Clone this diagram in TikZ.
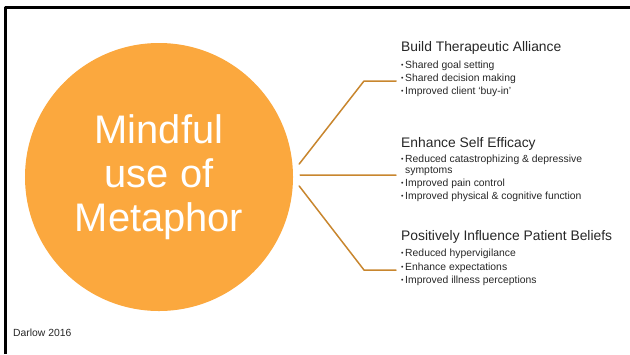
\documentclass[tikz,border=0pt]{standalone}
\usepackage{fontspec}
\setmainfont{Liberation Sans}
\definecolor{mindorange}{RGB}{251,168,62}
\definecolor{linkbrown}{RGB}{200,134,46}
\definecolor{txtgray}{RGB}{38,38,38}
\newcommand\itm{{\fontsize{7}{7}\selectfont\raisebox{0.8bp}{\textbullet}}\hspace{1.6bp}}

\begin{document}
\begin{tikzpicture}[x=1bp,y=-1bp, line join=round, line cap=round,
    head/.style={anchor=base west, inner sep=0pt, text=txtgray, font=\fontsize{13.9}{16}\selectfont},
    item/.style={anchor=base west, inner sep=0pt, text=txtgray, font=\fontsize{10.4}{12}\selectfont},
    link/.style={draw=linkbrown, line width=1.5bp}]
    \useasboundingbox (0,0) rectangle (630,354);
    % frame, top and left edges only
    \draw[line width=2.5bp, line cap=butt] (5.3,354) -- (5.3,7.5) -- (630,7.5);
    % the big circle
    \node (mind) at (159,177) [circle, fill=mindorange, minimum size=268bp, inner sep=0pt,
        text=white, align=center, font=\fontsize{40}{44}\selectfont] {Mindful\\use of\\Metaphor};
    % first group
    \node (h1) at (401,51) [head] {Build Therapeutic Alliance};
    \node (i11) at (401,68) [item] {\itm Shared goal setting};
    \node (i12) at (401,81) [item] {\itm Shared decision making};
    \node (i13) at (401,94) [item] {\itm Improved client ‘buy-in’};
    % second group
    \node (h2) at (401,147.5) [head] {Enhance Self Efficacy};
    \node (i21) at (401,162.7) [item] {\itm Reduced catastrophizing \& depressive};
    \node (i21b) at (401,173) [item] {\phantom{\itm}symptoms};
    \node (i22) at (401,186) [item] {\itm Improved pain control};
    \node (i23) at (401,199) [item] {\itm Improved physical \& cognitive function};
    % third group
    \node (h3) at (401,240.5) [head] {Positively Influence Patient Beliefs};
    \node (i31) at (401,256) [item] {\itm Reduced hypervigilance};
    \node (i32) at (401,270) [item] {\itm Enhance expectations};
    \node (i33) at (401,283.3) [item] {\itm Improved illness perceptions};
    \node (src) at (13,336) [item] {Darlow 2016};
    % connectors
    \coordinate (k1) at (364,81);
    \coordinate (t1) at (396,81);
    \coordinate (t2) at (396,175);
    \coordinate (k3) at (364,270);
    \coordinate (t3) at (396,270);
    \draw[link] ([xshift=6bp,yshift=13bp]mind.east) -- (k1) -- (t1);
    \draw[link] ([xshift=7bp,yshift=2bp]mind.east) -- (t2);
    \draw[link] ([xshift=6bp,yshift=-9bp]mind.east) -- (k3) -- (t3);
\end{tikzpicture}
\end{document}
